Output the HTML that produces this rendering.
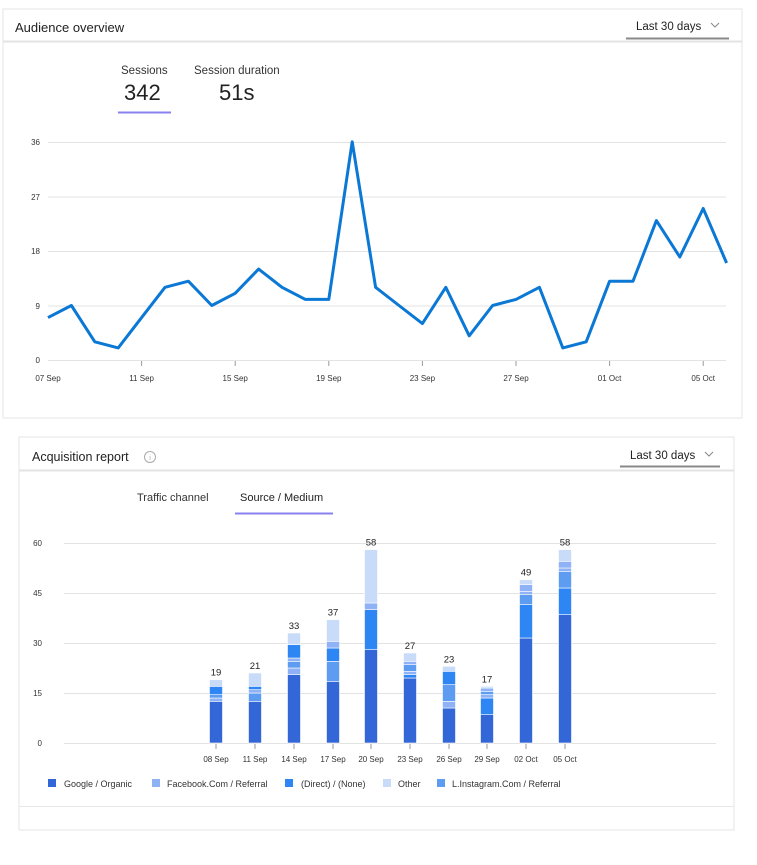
<!DOCTYPE html>
<html><head><meta charset="utf-8"><style>
body{margin:0;background:#fff;width:757px;height:860px;overflow:hidden}
svg text{font-family:"Liberation Sans",sans-serif}
</style></head><body>
<svg id="s" width="757" height="860" viewBox="0 0 757 860" xmlns="http://www.w3.org/2000/svg">
<rect width="757" height="860" fill="#fff"/>
<!-- top card -->
<rect x="3" y="9" width="739" height="409" fill="#fff" stroke="#e6e6e6"/>
<line x1="3" y1="41.5" x2="742" y2="41.5" stroke="#e3e3e3" stroke-width="2"/>
<text x="15" y="32" font-size="13" fill="#222">Audience overview</text>
<text x="636" y="30" font-size="11.5" fill="#222">Last 30 days</text>
<path d="M711 23 l4 4 l4 -4" fill="none" stroke="#888" stroke-width="1"/>
<line x1="626" y1="38.5" x2="729" y2="38.5" stroke="#888" stroke-width="2"/>
<text x="121" y="74" font-size="11.5" fill="#333">Sessions</text>
<text x="124" y="100" font-size="22" fill="#222">342</text>
<line x1="118" y1="112.5" x2="171" y2="112.5" stroke="#8a80f0" stroke-width="2"/>
<text x="194" y="74" font-size="11.5" fill="#333">Session duration</text>
<text x="219" y="100" font-size="22" fill="#222">51s</text>
<g stroke="#e3e3e3" stroke-width="1">
<line x1="48" y1="142.5" x2="726" y2="142.5"/><line x1="48" y1="197" x2="726" y2="197"/>
<line x1="48" y1="251.5" x2="726" y2="251.5"/><line x1="48" y1="306" x2="726" y2="306"/>
<line x1="48" y1="360.5" x2="726" y2="360.5"/></g>
<g font-size="8" fill="#333" text-anchor="end">
<text x="40" y="145">36</text><text x="40" y="200">27</text><text x="40" y="254">18</text><text x="40" y="309">9</text><text x="40" y="363">0</text></g>
<g font-size="8" fill="#333" text-anchor="middle">
<text x="48" y="381">07 Sep</text><text x="141.6" y="381">11 Sep</text><text x="235.2" y="381">15 Sep</text><text x="328.8" y="381">19 Sep</text><text x="422.4" y="381">23 Sep</text><text x="516" y="381">27 Sep</text><text x="609.6" y="381">01 Oct</text><text x="703.2" y="381">05 Oct</text></g>
<g stroke="#999"><line x1="141.6" y1="361" x2="141.6" y2="366"/><line x1="235.2" y1="361" x2="235.2" y2="366"/><line x1="328.8" y1="361" x2="328.8" y2="366"/><line x1="422.4" y1="361" x2="422.4" y2="366"/><line x1="516" y1="361" x2="516" y2="366"/><line x1="609.6" y1="361" x2="609.6" y2="366"/><line x1="703.2" y1="361" x2="703.2" y2="366"/></g>
<polyline fill="none" stroke="#0a78d4" stroke-width="3" stroke-linejoin="round" points="48,317.6 71.4,305.5 94.8,341.8 118.2,347.9 141.6,317.6 165,287.3 188.4,281.2 211.8,305.5 235.2,293.3 258.6,269.1 282,287.3 305.4,299.4 328.8,299.4 352.2,141.8 375.6,287.3 399,305.5 422.4,323.6 445.8,287.3 469.2,335.8 492.6,305.5 516,299.4 539.4,287.3 562.8,347.9 586.2,341.8 609.6,281.2 633,281.2 656.4,220.6 679.8,257 703.2,208.5 726.6,263"/>
<!-- bottom card -->
<rect x="19" y="437" width="715" height="393" fill="#fff" stroke="#e6e6e6"/>
<line x1="19" y1="470.5" x2="734" y2="470.5" stroke="#e3e3e3" stroke-width="2"/>
<line x1="19" y1="806.5" x2="734" y2="806.5" stroke="#e8e8e8"/>
<text x="32" y="461" font-size="12.5" fill="#222">Acquisition report</text>
<circle cx="150" cy="457" r="5.5" fill="none" stroke="#aaa"/><text x="150" y="460" font-size="7" fill="#aaa" text-anchor="middle">i</text>
<text x="630" y="459" font-size="11.5" fill="#222">Last 30 days</text>
<path d="M705 452 l4 4 l4 -4" fill="none" stroke="#888" stroke-width="1"/>
<line x1="620" y1="466.5" x2="720" y2="466.5" stroke="#888" stroke-width="2"/>
<text x="137" y="501" font-size="11" fill="#333">Traffic channel</text>
<text x="240" y="501" font-size="11" fill="#222">Source / Medium</text>
<line x1="235" y1="513.5" x2="333" y2="513.5" stroke="#8a80f0" stroke-width="2"/>
<g stroke="#e3e3e3"><line x1="64" y1="543.5" x2="716" y2="543.5"/><line x1="64" y1="593.5" x2="716" y2="593.5"/><line x1="64" y1="643.5" x2="716" y2="643.5"/><line x1="64" y1="693.5" x2="716" y2="693.5"/><line x1="64" y1="743.5" x2="716" y2="743.5"/></g>
<g font-size="8" fill="#333" text-anchor="end"><text x="42" y="546">60</text><text x="42" y="596">45</text><text x="42" y="646">30</text><text x="42" y="696">15</text><text x="42" y="746">0</text></g>
<g id="bars"></g>
<g font-size="9" fill="#333">
<rect x="48" y="779" width="8" height="8" fill="#3366d6"/><text x="64" y="787">Google / Organic</text>
<rect x="152" y="779" width="8" height="8" fill="#8fb1f5"/><text x="167" y="787">Facebook.Com / Referral</text>
<rect x="285" y="779" width="8" height="8" fill="#2e86f5"/><text x="301" y="787">(Direct) / (None)</text>
<rect x="383" y="779" width="8" height="8" fill="#c8dcfa"/><text x="398" y="787">Other</text>
<rect x="437" y="779" width="8" height="8" fill="#5e9cf2"/><text x="452" y="787">L.Instagram.Com / Referral</text>
</g>
</svg>
<script>
var C={G:"#3366d6",F:"#8fb1f5",D:"#2e86f5",O:"#c8dcfa",I:"#5e9cf2"};
var data=[["08 Sep",19,[["G",12.5],["F",1],["I",1],["D",2.5],["O",2]]],
["11 Sep",21,[["G",12.5],["I",2.5],["F",1],["D",1],["O",4]]],
["14 Sep",33,[["G",20.5],["F",2],["I",2],["F",1],["D",4],["O",3.5]]],
["17 Sep",37,[["G",18.5],["I",6],["D",4],["F",2],["O",6.5]]],
["20 Sep",58,[["G",28],["D",12],["F",2],["O",16]]],
["23 Sep",27,[["G",19.5],["D",1],["F",1],["I",2],["F",1],["O",2.5]]],
["26 Sep",23,[["G",10.5],["F",2],["I",5],["D",4],["O",1.5]]],
["29 Sep",17,[["G",8.5],["D",5],["F",1],["I",1],["F",1],["O",0.5]]],
["02 Oct",49,[["G",31.5],["D",10],["I",3],["F",1],["F",2],["O",1.5]]],
["05 Oct",58,[["G",38.5],["D",8],["I",5],["F",1],["F",2],["O",3.5]]]];
var xs=[216,255,294,333,371,410,449,487,526,565],u=200/60,h="";
data.forEach(function(d,i){var x=xs[i],y=743;
d[2].forEach(function(s){var hh=s[1]*u;y-=hh;h+='<rect x="'+(x-6.5)+'" y="'+y+'" width="13" height="'+hh+'" fill="'+C[s[0]]+'" stroke="#fff" stroke-width="0.6"/>';});
h+='<text x="'+x+'" y="'+(743-d[1]*u-4)+'" font-size="9.5" fill="#222" text-anchor="middle">'+d[1]+'</text>';
h+='<line x1="'+x+'" y1="744" x2="'+x+'" y2="749" stroke="#999"/>';
h+='<text x="'+x+'" y="762" font-size="8" fill="#333" text-anchor="middle">'+d[0]+'</text>';});
document.getElementById("bars").innerHTML=h;
</script>
</body></html>
